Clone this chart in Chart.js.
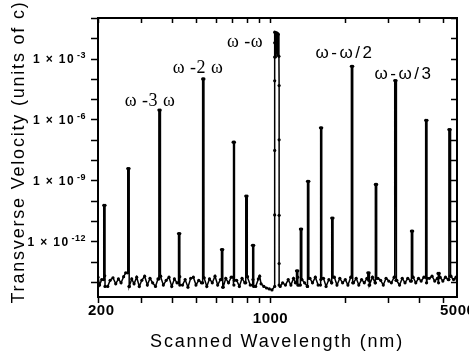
<!DOCTYPE html>
<html>
<head>
<meta charset="utf-8">
<script src="https://cdn.jsdelivr.net/npm/chart.js@4.4.0/dist/chart.umd.min.js"></script>
<style>
  html, body { margin: 0; padding: 0; background: #fff; }
</style>
</head>
<body>
<canvas id="scanChart" width="469" height="357"></canvas>
<script>
// baseline noise of the scan (wavelength in nm, velocity in units of 1e-15 c)
const baseWavelengths = [200,203,207,213,219,224,230,236,242,248,
  254,259,268,274,280,287,294,301,309,317,
  325,333,342,350,359,368,378,388,398,408,
  418,429,440,451,463,475,487,499,512,525,
  538,552,566,581,596,611,627,643,659,676,
  693,711,729,748,767,787,807,828,849,871,
  893,904,916,940,964,989,1014,1095,1120,1150,
  1180,1210,1240,1262,1290,1305,1340,1375,1410,1445,
  1480,1520,1560,1600,1640,1680,1725,1770,1815,1860,
  1910,1960,2010,2060,2115,2170,2225,2280,2340,2400,
  2460,2500,2525,2590,2655,2725,2795,2865,2940,3015,
  3090,3170,3250,3335,3420,3510,3600,3690,3785,3880,
  3980,4080,4185,4290,4400,4515,4630,4750,4800,4870,
  4995,5120,5250,5385,5520,5650,5700];
const baseValues = [17,7,13,20,6,12,16,8,14,9,
  18,28,6,14,8,17,6,12,19,7,
  15,9,6,14,19,7,12,17,6,14,
  9,18,7,13,5.5,15,17,7,12,9,
  16,6,14,9,19,7,13,5.5,15,9,
  17,7,12,6,15,9,18,7,13,6,
  14,19,8,6,5,4.5,4,6,9,7,
  13,7,15,9,17,7,13,9,6,15,
  9,17,7,13,15,6,13,9,17,7,
  15,9,13,7,17,9,15,7,13,9,
  15,12,7,17,9,15,12,7,15,11,
  9,17,12,7,15,9,15,11,17,9,
  15,11,17,9,15,19,11,15,9,17,
  11,17,13,19,13,17,13].map(v => v * 1e-15);

// resonance peaks found in the scan
const peakWavelengths = [211, 264, 353, 424, 531, 633, 706, 794, 845, 1275, 1322, 1413,
  1594, 1771, 2128, 2480, 2661, 3188, 3725, 4255, 4774, 5285];
const peakValues = [5.9e-11, 3.8e-9, 2.9e-6, 2.4e-12, 1.0e-4, 3.9e-13, 7.6e-8, 1.7e-10, 6.3e-13, 3.5e-14, 4.0e-12, 9.0e-10,
  3.9e-7, 1.4e-11, 4.2e-4, 2.8e-14, 6.3e-10, 8.3e-5, 3.2e-12, 9.2e-7, 2.6e-14, 3.2e-7];

// the omega - omega line (1064 nm)
const laserWavelengths = [1040,1040,1040,1040,1040,1040,1040,1046,1052,1058,1064,1070,1076,1082,1084,1084,1084,1084,1084];
const laserValues = [6e-15,2e-11,3e-8,8e-5,1.2e-3,6e-3,2e-2,1.2e-3,1.9e-2,2e-3,1.8e-2,1.5e-3,1.6e-2,1.3e-3,4.7e-5,1e-7,1.9e-11,8e-14,7e-15];

const xTickValues = [200,300,400,500,600,700,800,900,1000,2000,3000,4000,5000];
const xTickLabels = [200, 1000, 5000];
const yTickValues = [1e-1,1e-2,1e-3,1e-4,1e-5,1e-6,1e-7,1e-8,1e-9,1e-10,1e-11,1e-12,1e-13,1e-14];
const yLabelExponents = [-3, -6, -9, -12];

const peakLabels = ['ω -3 ω', 'ω -2 ω', 'ω -ω', 'ω-ω/2', 'ω-ω/3'];

// monta a serie
const points = [];
baseWavelengths.forEach((w, i) => points.push({ x: w, y: baseValues[i] }));
peakWavelengths.forEach((w, i) => {
  let left = baseValues[0], right = null;
  baseWavelengths.forEach((bw, j) => {
    if (bw < w) left = baseValues[j];
    if (bw > w * 1.012 && right === null) right = baseValues[j];
  });
  if (right === null) right = baseValues[baseValues.length - 1];
  points.push({ x: w, y: left });
  points.push({ x: w, y: peakValues[i] });
  points.push({ x: w * 1.012, y: peakValues[i] });
  points.push({ x: w * 1.012, y: right });
});
laserWavelengths.forEach((w, i) => points.push({ x: w, y: laserValues[i] }));
points.sort((a, b) => a.x - b.x);

function drawText(ctx, s, x, y, font, align, spacing) {
  ctx.font = font;
  ctx.textAlign = align;
  ctx.textBaseline = 'middle';
  ctx.letterSpacing = (spacing || 0) + 'px';
  ctx.fillText(s, x, y);
}

const framePlugin = {
  id: 'frame',
  afterDraw(chart) {
    const { ctx, chartArea: a, scales: { x, y } } = chart;
    ctx.save();
    ctx.strokeStyle = '#000';
    ctx.fillStyle = '#000';
    ctx.lineWidth = 1.5;
    ctx.beginPath();
    xTickValues.forEach(v => {
      const px = Math.round(x.getPixelForValue(v)) + 0.5;
      ctx.moveTo(px, a.bottom); ctx.lineTo(px, a.bottom + 6);
      ctx.moveTo(px, a.top); ctx.lineTo(px, a.top + 5);
    });
    yTickValues.forEach(v => {
      const py = Math.round(y.getPixelForValue(v)) + 0.5;
      ctx.moveTo(a.left, py); ctx.lineTo(a.left - 7, py);
      ctx.moveTo(a.right, py); ctx.lineTo(a.right - 6, py);
    });
    ctx.stroke();
    ctx.lineWidth = 2;
    ctx.strokeRect(a.left, a.top, a.right - a.left, a.bottom - a.top);

    // tick labels x
    const xl = xTickLabels.map(v => x.getPixelForValue(v));
    drawText(ctx, String(xTickLabels[0]), xl[0] - 10, 311, 'bold 15px "Liberation Sans"', 'left', 0.5);
    drawText(ctx, String(xTickLabels[1]), xl[1], 319, 'bold 15px "Liberation Sans"', 'center', 0.5);
    drawText(ctx, String(xTickLabels[2]), xl[2] - 3, 311, 'bold 15px "Liberation Sans"', 'left', 0.5);

    // tick labels y
    yLabelExponents.forEach(e => {
      const py = y.getPixelForValue(Math.pow(10, e));
      drawText(ctx, '-' + (-e), 86, py - 3, 'bold 9px "Liberation Sans"', 'right', 0.5);
      const supW = ctx.measureText('-' + (-e)).width;
      drawText(ctx, '1 × 10', 86 - supW - 2, py + 1, 'bold 12px "Liberation Sans"', 'right', 1.4);
    });

    // axis titles
    drawText(ctx, 'Scanned Wavelength (nm)', 277, 342, '18px "Liberation Sans"', 'center', 1.8);
    ctx.save();
    ctx.translate(19, 152);
    ctx.rotate(-Math.PI / 2);
    drawText(ctx, 'Transverse Velocity (units of c)', 0, 0, '18px "Liberation Sans"', 'center', 1.8);
    ctx.restore();

    // peak labels
    drawText(ctx, peakLabels[0], 150, 101, '18px "Liberation Serif"', 'center', 0.5);
    drawText(ctx, peakLabels[1], 198, 68, '18px "Liberation Serif"', 'center', 0.5);
    drawText(ctx, peakLabels[2], 245, 42, '18px "Liberation Serif"', 'center', 0.5);
    drawText(ctx, peakLabels[3], 345, 53, '17px "Liberation Sans"', 'center', 2.5);
    drawText(ctx, peakLabels[4], 404, 74, '17px "Liberation Sans"', 'center', 2.5);
    ctx.restore();
  }
};

const scanChart = new Chart(document.getElementById('scanChart').getContext('2d'), {
  type: 'scatter',
  data: {
    datasets: [{
      data: points,
      showLine: true,
      borderColor: '#000',
      borderWidth: 1.5,
      pointRadius: 1.6,
      pointBackgroundColor: '#000',
      pointBorderWidth: 0
    }]
  },
  options: {
    responsive: false,
    animation: false,
    layout: { padding: { top: 18, right: 12, left: 0, bottom: 0 } },
    plugins: { legend: { display: false }, tooltip: { enabled: false } },
    scales: {
      x: {
        type: 'logarithmic', min: 200, max: 5700,
        grid: { display: false }, border: { display: false },
        ticks: { display: false },
        afterFit: s => { s.height = 60; }
      },
      y: {
        type: 'logarithmic', min: 1.8e-15, max: 1e-1,
        grid: { display: false }, border: { display: false },
        ticks: { display: false },
        afterFit: s => { s.width = 98; }
      }
    }
  },
  plugins: [framePlugin]
});
</script>
</body>
</html>
